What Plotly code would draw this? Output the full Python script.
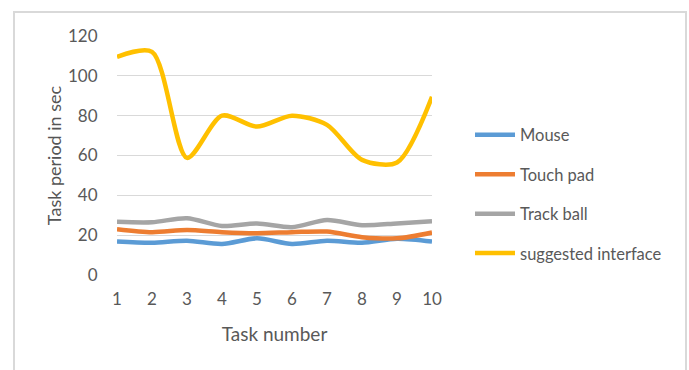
import plotly.graph_objects as go

tasks = [1, 2, 3, 4, 5, 6, 7, 8, 9, 10]
mouse = [16.8, 16.2, 17.2, 15.6, 18.4, 15.6, 17.2, 16.2, 18.2, 16.8]
touch_pad = [23.0, 21.5, 22.6, 21.5, 21.0, 21.5, 21.8, 19.0, 18.4, 21.3]
track_ball = [26.7, 26.5, 28.5, 24.6, 25.9, 24.0, 27.6, 25.0, 25.9, 27.0]
suggested = [109.5, 112, 58.8, 80, 74.5, 80, 75.4, 57.8, 56.5, 89.5]

series = [
    ("Mouse", mouse, "#5b9bd5"),
    ("Touch pad", touch_pad, "#ed7d31"),
    ("Track ball", track_ball, "#a5a5a5"),
    ("suggested interface", suggested, "#ffc000"),
]

W, H = 689, 370
L, R, T, B = 117, 257, 36, 95
pw = W - L - R
ph = H - T - B

fig = go.Figure()
for i, (name, vals, color) in enumerate(series):
    fig.add_trace(go.Scatter(
        x=tasks, y=vals, name=name, mode="lines",
        line=dict(color=color, width=4.5, shape="spline", smoothing=0.8),
        legendgroup=str(i),
    ))

font_family = "Lato, 'Open Sans', sans-serif"
fig.update_layout(
    width=W, height=H,
    margin=dict(l=L, r=R, t=T, b=B),
    paper_bgcolor="white", plot_bgcolor="white",
    font=dict(family=font_family, color="#595959"),
    xaxis=dict(
        range=[1, 10], tickvals=tasks, ticktext=[str(t) for t in tasks],
        showgrid=False, zeroline=False, showline=False,
        tickfont=dict(size=17, color="#595959"),
        ticks="outside", ticklen=9, tickcolor="rgba(0,0,0,0)",
        title=dict(text="Task number", font=dict(size=19, color="#595959"), standoff=19),
    ),
    yaxis=dict(
        range=[0, 120], tickvals=[0, 20, 40, 60, 80, 100, 120],
        showgrid=True, gridcolor="#d9d9d9", gridwidth=1, zeroline=False,
        tickfont=dict(size=17, color="#595959"),
        ticks="outside", ticklen=15, tickcolor="rgba(0,0,0,0)",
        title=dict(text="Task period in sec", font=dict(size=18, color="#555555"), standoff=1),
    ),
    legend=dict(
        x=(470 - L) / pw, y=(H - B - 194) / ph,
        xanchor="left", yanchor="middle",
        font=dict(size=16.5, color="#595959"),
        tracegroupgap=15, bgcolor="rgba(0,0,0,0)",
        itemwidth=40,
    ),
    showlegend=True,
    shapes=[dict(
        type="rect", xref="paper", yref="paper",
        x0=(14 - L) / pw, x1=(686 - L) / pw,
        y0=(H - B - 380) / ph, y1=(H - B - 12) / ph,
        line=dict(color="#d9d9d9", width=2), fillcolor="rgba(0,0,0,0)",
        layer="below",
    )],
)

fig.write_html("out.html")
